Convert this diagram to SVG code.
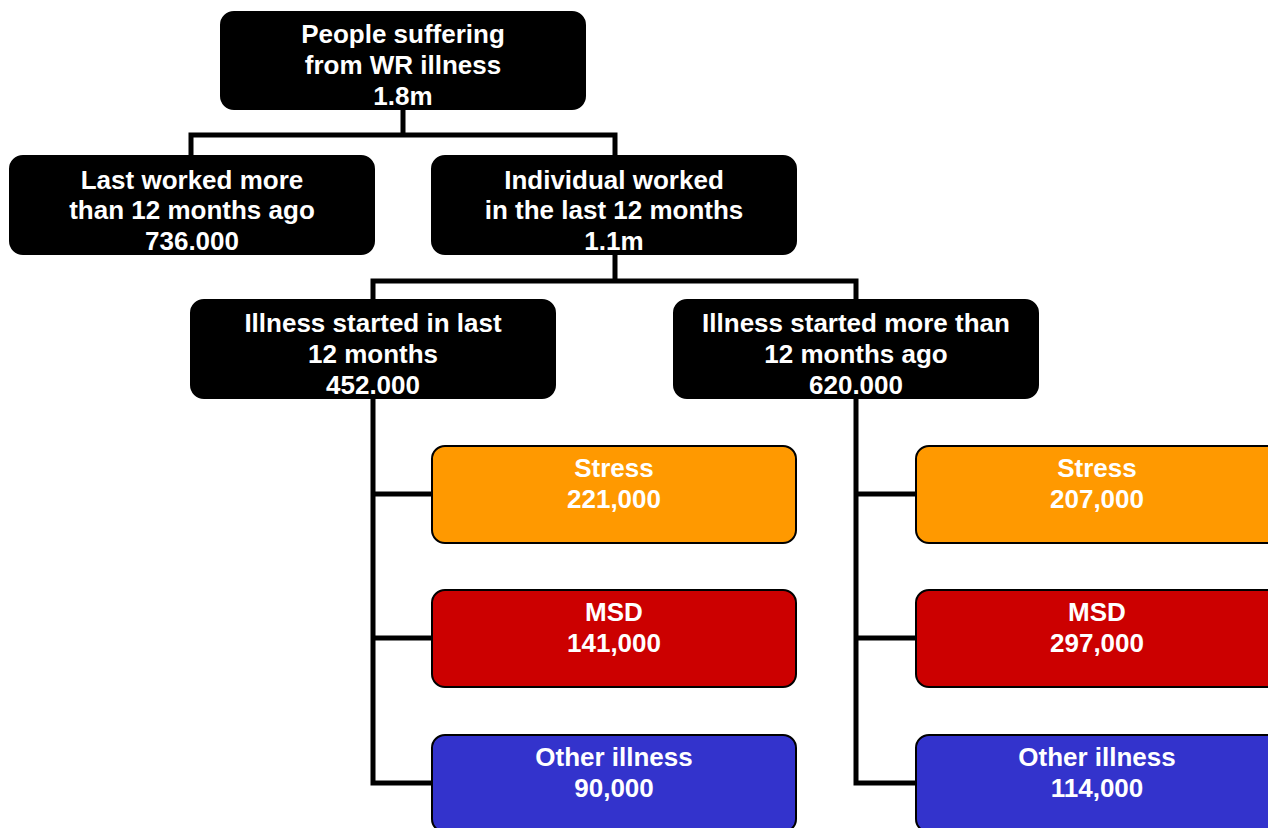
<svg xmlns="http://www.w3.org/2000/svg" width="1268" height="828" viewBox="0 0 1268 828">
<style>
.box{stroke:#000;stroke-width:2}
.blk{fill:#000}
.stress{fill:#FF9900}
.msd{fill:#CC0000}
.oth{fill:#3333CC}
text{font-family:"Liberation Sans",Arial,sans-serif;font-weight:bold;font-size:26px;fill:#fff;text-anchor:middle}
.conn{fill:none;stroke:#000;stroke-width:5;stroke-linejoin:miter}
</style>
<rect width="1268" height="828" fill="#fff"/>
<g id="connectors">
<path class="conn" d="M403,109 V135 M191,156 V135 H615 V156"/>
<path class="conn" d="M615,254 V281 M373,300 V281 H856 V300"/>
<path class="conn" d="M373,398 V783 H432 M373,494 H432 M373,638 H432"/>
<path class="conn" d="M856,398 V783 H916 M856,494 H916 M856,638 H916"/>
</g>
<g id="root">
<rect class="box blk" x="221" y="12" width="364" height="97" rx="13"/>
<text x="403" y="43">People suffering</text>
<text x="403" y="74">from WR illness</text>
<text x="403" y="105">1.8m</text>
</g>
<g id="last-worked">
<rect class="box blk" x="10" y="156" width="364" height="98" rx="13"/>
<text x="192" y="189">Last worked more</text>
<text x="192" y="219">than 12 months ago</text>
<text x="192" y="250">736.000</text>
</g>
<g id="worked-12">
<rect class="box blk" x="432" y="156" width="364" height="98" rx="13"/>
<text x="614" y="189">Individual worked</text>
<text x="614" y="219">in the last 12 months</text>
<text x="614" y="250">1.1m</text>
</g>
<g id="started-last">
<rect class="box blk" x="191" y="300" width="364" height="98" rx="13"/>
<text x="373" y="332">Illness started in last</text>
<text x="373" y="363">12 months</text>
<text x="373" y="394">452.000</text>
</g>
<g id="started-more">
<rect class="box blk" x="674" y="300" width="364" height="98" rx="13"/>
<text x="856" y="332">Illness started more than</text>
<text x="856" y="363">12 months ago</text>
<text x="856" y="394">620.000</text>
</g>
<g id="stress-1">
<rect class="box stress" x="432" y="446" width="364" height="97" rx="13"/>
<text x="614" y="477">Stress</text>
<text x="614" y="508">221,000</text>
</g>
<g id="msd-1">
<rect class="box msd" x="432" y="590" width="364" height="97" rx="13"/>
<text x="614" y="621">MSD</text>
<text x="614" y="652">141,000</text>
</g>
<g id="other-1">
<rect class="box oth" x="432" y="735" width="364" height="97" rx="13"/>
<text x="614" y="766">Other illness</text>
<text x="614" y="797">90,000</text>
</g>
<g id="stress-2">
<rect class="box stress" x="916" y="446" width="364" height="97" rx="13"/>
<text x="1097" y="477">Stress</text>
<text x="1097" y="508">207,000</text>
</g>
<g id="msd-2">
<rect class="box msd" x="916" y="590" width="364" height="97" rx="13"/>
<text x="1097" y="621">MSD</text>
<text x="1097" y="652">297,000</text>
</g>
<g id="other-2">
<rect class="box oth" x="916" y="735" width="364" height="97" rx="13"/>
<text x="1097" y="766">Other illness</text>
<text x="1097" y="797">114,000</text>
</g>
</svg>
